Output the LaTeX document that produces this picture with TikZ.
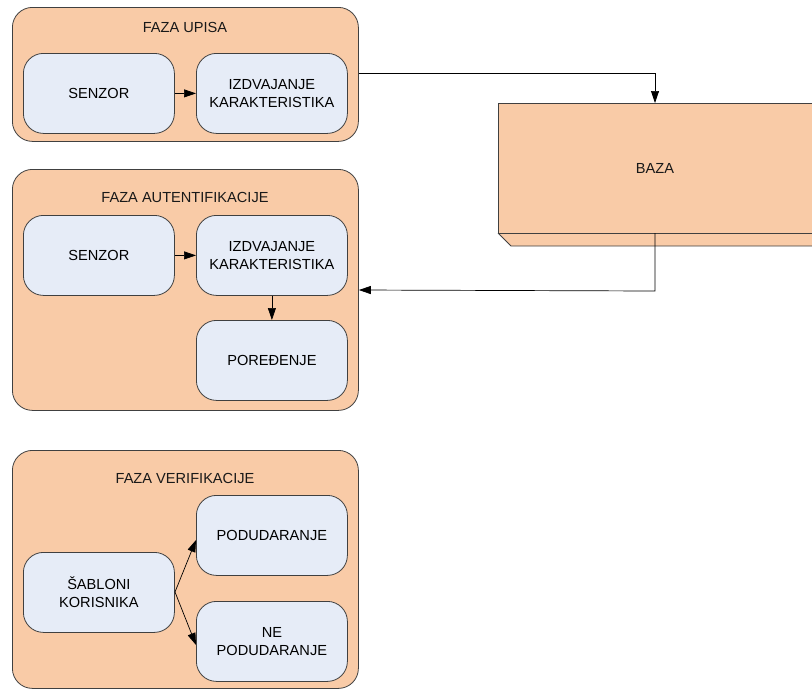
\documentclass[tikz,border=0pt]{standalone}
\usepackage{fontspec}
\setmainfont{Liberation Sans}
\usetikzlibrary{arrows.meta}
\definecolor{peach}{HTML}{F9CBA7}
\definecolor{paleblue}{HTML}{E6ECF7}
\definecolor{edge}{HTML}{404040}
\begin{document}
\begin{tikzpicture}[x=1pt,y=-1pt,
  phase/.style={draw=edge,fill=peach,rounded corners=20pt,line width=0.8pt},
  inner/.style={draw=edge,fill=paleblue,rounded corners=20pt,line width=0.8pt,
    minimum width=151pt,minimum height=80pt,align=center,inner sep=0pt,
    font=\fontsize{14.6}{18}\selectfont,anchor=north west},
  title/.style={font=\fontsize{14.6}{18}\selectfont,text=black!90},
  conn/.style={draw=black,line width=0.7pt,-{Triangle[length=12pt,width=8pt]}}]
\useasboundingbox (0,0) rectangle (812,689);
% phase 1
\node[phase,minimum width=346pt,minimum height=134pt,anchor=north west,inner sep=0pt] (p1) at (12,7) {};
\node[title] (t1) at (185,27) {FAZA UPISA};
\node[inner] (s1) at (23,53) {SENZOR};
\node[inner] (e1) at (196,53) {IZDVAJANJE\\KARAKTERISTIKA};
\draw[conn] (s1.east) -- (e1.west);
% phase 2
\node[phase,minimum width=346pt,minimum height=241pt,anchor=north west,inner sep=0pt] (p2) at (12,169) {};
\node[title] (t2) at (185,197) {FAZA AUTENTIFIKACIJE};
\node[inner] (s2) at (23,215) {SENZOR};
\node[inner] (e2) at (196,215) {IZDVAJANJE\\KARAKTERISTIKA};
\node[inner] (c2) at (196,320) {PORE\DJ ENJE};
\draw[conn] (s2.east) -- (e2.west);
\draw[conn] (e2.south) -- (c2.north);
% phase 3
\node[phase,minimum width=346pt,minimum height=238pt,anchor=north west,inner sep=0pt] (p3) at (12,450) {};
\node[title] (t3) at (185,478) {FAZA VERIFIKACIJE};
\node[inner] (m3) at (196,495) {PODUDARANJE};
\node[inner] (s3) at (23,552) {ŠABLONI\\KORISNIKA};
\node[inner] (n3) at (196,601) {NE\\PODUDARANJE};
\coordinate (fork) at (175,592);
\draw[conn] (fork) -- (196,540);
\draw[conn] (fork) -- (196,645);
% database
\fill[peach] (498,233) -- (511,246) -- (830,246) -- (830,233) -- cycle;
\draw[edge,line width=0.8pt] (498,233) -- (511,246) -- (830,246);
\node[draw=edge,fill=peach,line width=0.8pt,minimum width=330pt,minimum height=130pt,
  anchor=north west,inner sep=0pt] (db) at (498,103) {};
\node[title] (dbl) at (655,168) {BAZA};
% connectors
\coordinate (dbtop) at (655,103);
\coordinate (dbbot) at (655,233);
\draw[conn] (p1.east |- 0,73) -- (655,73) -- (dbtop);
\draw[conn] (dbbot) -- (655,291) -- (p2.east |- 0,290);
\end{tikzpicture}
\end{document}
